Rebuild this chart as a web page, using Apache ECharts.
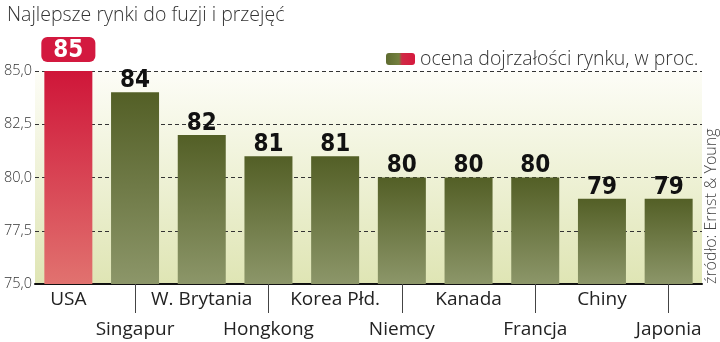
<!DOCTYPE html>
<html>
<head>
<meta charset="utf-8">
<script src="https://cdn.jsdelivr.net/npm/echarts@6/dist/echarts.min.js"></script>
<style>
html,body{margin:0;padding:0;background:#fff;}
#chart{width:720px;height:342px;}
</style>
</head>
<body>
<div id="chart"></div>
<script>
// Markets ranked by M&A maturity score
var countries = ['USA', 'Singapur', 'W. Brytania', 'Hongkong', 'Korea Płd.', 'Niemcy', 'Kanada', 'Francja', 'Chiny', 'Japonia'];
var scores = [85, 84, 82, 81, 81, 80, 80, 80, 79, 79];
var yTicks = [75, 77.5, 80, 82.5, 85];
var titleText = 'Najlepsze rynki do fuzji i przejęć';
var legendText = 'ocena dojrzałości rynku, w proc.';
var sourceText = 'źródło: Ernst & Young';

var G = echarts.graphic.LinearGradient;
var greenFill = new G(0, 0, 0, 1, [{offset: 0, color: '#535f26'}, {offset: 1, color: '#8c9669'}]);
var redFill = new G(0, 0, 0, 1, [{offset: 0, color: '#cf1639'}, {offset: 1, color: '#e1726f'}]);
var valueFont = '"Liberation Sans Narrow", "DejaVu Sans Condensed", sans-serif';
var textFont = '"Open Sans", sans-serif';

var barData = scores.map(function (v, i) {
  var top = i === 0;
  return {
    value: v,
    itemStyle: {color: top ? redFill : greenFill},
    label: top ? {
      color: '#fff', backgroundColor: '#d3193f', borderRadius: 6,
      padding: [4, 12, 2, 12], distance: 9
    } : {}
  };
});

var chart = echarts.init(document.getElementById('chart'));
chart.setOption({
  animation: false,
  title: {
    text: titleText, left: 2, top: 0,
    textStyle: {fontFamily: textFont, fontWeight: 300, fontSize: 19.5, color: '#333'}
  },
  legend: {
    left: 381, top: 44, itemWidth: 29, itemHeight: 12, itemGap: 6,
    icon: 'roundRect',
    textStyle: {fontFamily: textFont, fontWeight: 300, fontSize: 19.5, color: '#333'},
    data: [{
      name: legendText,
      itemStyle: {color: new G(0, 0, 1, 0, [{offset: 0, color: '#5e6b30'}, {offset: 0.45, color: '#74803f'}, {offset: 0.55, color: '#cf2a45'}, {offset: 1, color: '#d6193e'}])}
    }]
  },
  grid: {
    left: 35, right: 18, top: 71, bottom: 58, show: true, borderWidth: 0,
    outerBoundsMode: 'none', containLabel: false,
    backgroundColor: new G(0, 0, 0, 1, [{offset: 0, color: '#fdfdf7'}, {offset: 1, color: '#dfe5b4'}])
  },
  xAxis: {
    type: 'category', data: countries,
    axisLine: {lineStyle: {color: '#111', width: 2}},
    axisTick: {
      show: true, alignWithLabel: true, length: 29, lineStyle: {color: '#444', width: 1},
      interval: function (i) { return i % 2 === 1; }
    },
    axisLabel: {
      interval: 0, margin: 1, lineHeight: 30, fontFamily: textFont, fontSize: 19, color: '#222',
      formatter: function (v, i) { return i % 2 === 1 ? '\n' + v : v; }
    }
  },
  yAxis: {
    type: 'value', min: yTicks[0], max: yTicks[yTicks.length - 1], interval: 2.5,
    axisLine: {show: false}, axisTick: {show: false},
    axisLabel: {
      margin: 3, fontFamily: textFont, fontWeight: 300, fontSize: 14.5, color: '#333',
      formatter: function (v) { return v.toFixed(1).replace('.', ','); }
    },
    splitLine: {lineStyle: {color: '#333', width: 1, type: [4, 3]}}
  },
  series: [{
    name: legendText, type: 'bar', data: barData, barWidth: 48,
    itemStyle: {color: greenFill},
    label: {
      show: true, position: 'top', distance: 2, lineHeight: 19,
      fontFamily: valueFont, fontWeight: 'bold', fontSize: 24, color: '#111'
    }
  }],
  graphic: [{
    type: 'text', x: 703, y: 284, rotation: Math.PI / 2,
    style: {text: sourceText, fontFamily: textFont, fontWeight: 300, fontSize: 16, fill: '#444', align: 'left', verticalAlign: 'top'}
  }]
});
</script>
</body>
</html>
